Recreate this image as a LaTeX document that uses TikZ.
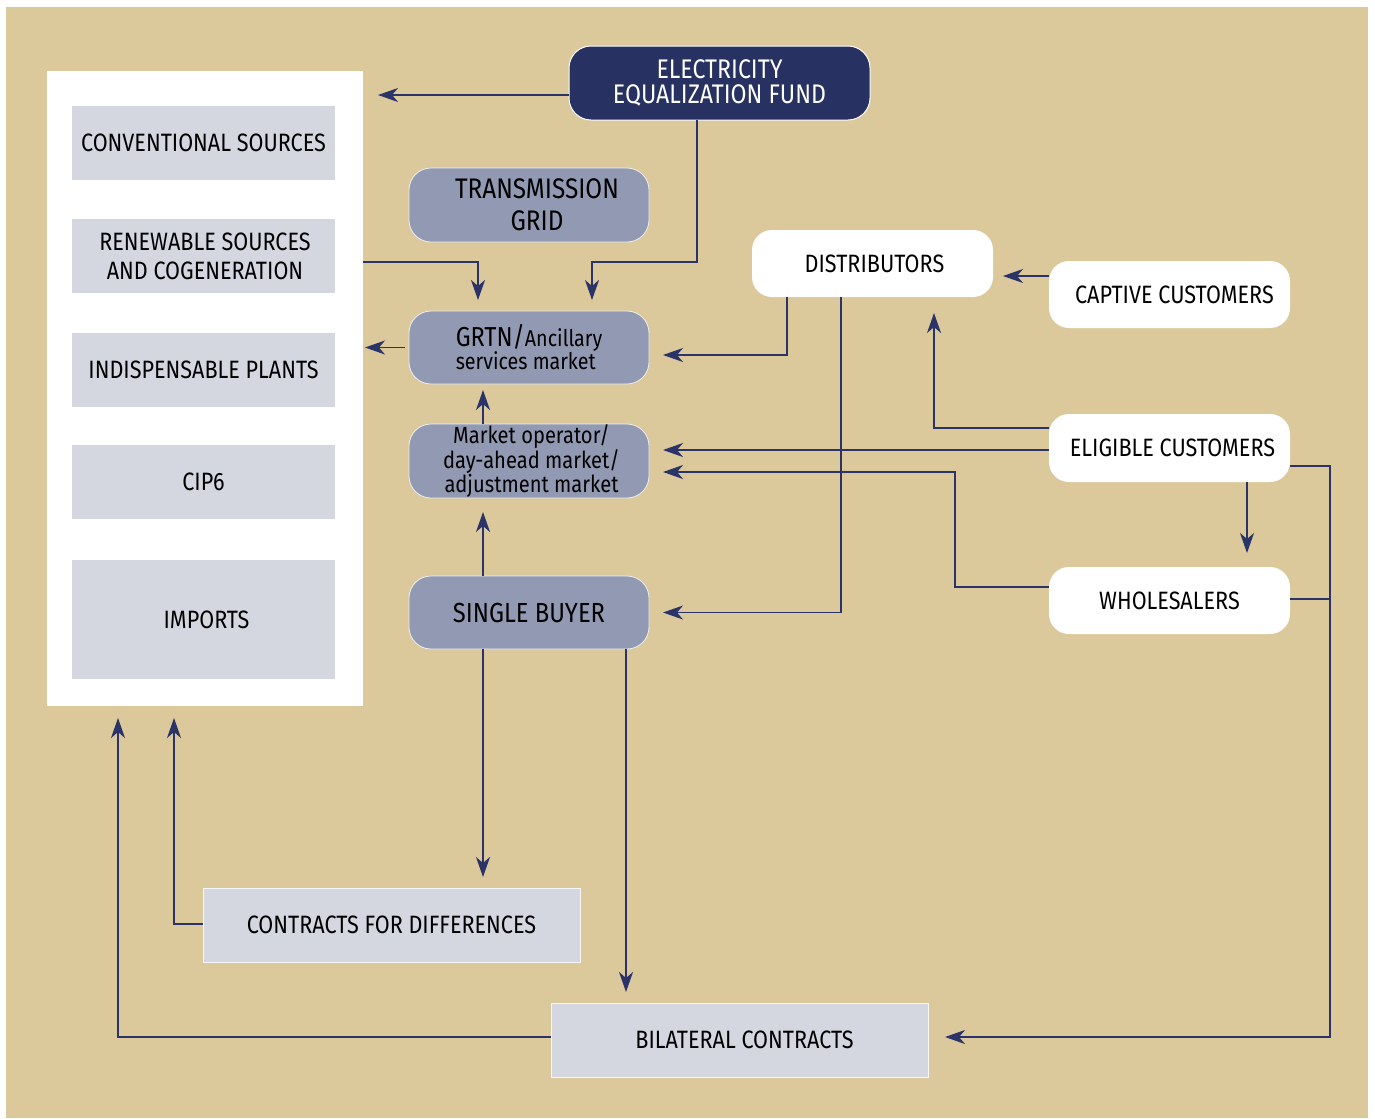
\documentclass[tikz,border=0pt]{standalone}
\usepackage{fontspec}
\setmainfont[FakeStretch=0.86]{Fira Sans}
\usetikzlibrary{arrows.meta,calc}
\definecolor{tan}{RGB}{219,200,155}
\definecolor{navy}{RGB}{43,52,105}
\definecolor{eefblue}{RGB}{40,50,98}
\definecolor{midblue}{RGB}{146,153,178}
\definecolor{lightgray}{RGB}{212,215,224}
\begin{document}
\begin{tikzpicture}[x=1bp,y=-1bp,
  every node/.style={inner sep=0pt,outer sep=0pt,align=center,font=\fontsize{25.2}{29}\selectfont},
  inbox/.style={rectangle,fill=lightgray,minimum width=263bp,minimum height=74bp},
  midbox/.style={rectangle,rounded corners=22bp,fill=midblue,draw=white!85!midblue,line width=0.8bp,minimum width=240bp,minimum height=74bp},
  whitebox/.style={rectangle,rounded corners=20bp,fill=white,minimum width=241bp,minimum height=67bp},
  contract/.style={rectangle,fill=lightgray,draw=white!80!lightgray,line width=1bp,minimum width=377bp,minimum height=74bp},
  conn/.style={draw=navy,line width=1.4bp},
  arr/.style={conn,-{Stealth[length=20bp,width=14bp,inset=6bp]}}
]
\useasboundingbox (0,0) rectangle (1375,1118);
\fill[white] (0,0) rectangle (1375,1118);
\fill[tan] (6,7) rectangle (1368,1118);

% left panel
\node[rectangle,fill=white,minimum width=316bp,minimum height=635bp] (panel) at (205,388.5) {};
\node[inbox] (conv) at (203.5,143) {CONVENTIONAL SOURCES};
\node[inbox] (renew) at (203.5,256) {\hspace*{3bp}RENEWABLE SOURCES\\\hspace*{3bp}AND COGENERATION};
\node[inbox] (indisp) at (203.5,370) {INDISPENSABLE PLANTS};
\node[inbox] (cip) at (203.5,482) {CIP6};
\node[inbox,minimum height=119bp] (imports) at (203.5,619.5) {\hspace*{6bp}IMPORTS};

% central column
\node[rectangle,rounded corners=22bp,fill=eefblue,draw=white,line width=1bp,minimum width=301bp,minimum height=74bp,text=white,font=\fontsize{27}{25.5}\selectfont] (eef) at (719.5,83) {ELECTRICITY\\EQUALIZATION FUND};
\node[midbox,font=\fontsize{28.4}{32}\selectfont] (tg) at (529,205) {\hspace*{16bp}TRANSMISSION\\\hspace*{16bp}GRID};
\node[midbox,minimum height=73bp,align=left,font=\fontsize{23}{23}\selectfont] (grtn) at (529,347.5) {{\fontsize{27.5}{23}\selectfont GRTN/}Ancillary\\services market};
\node[midbox,font=\fontsize{23.5}{22}\selectfont] (mo) at (529,461) {\hspace*{5bp}Market operator/\\\hspace*{5bp}day-ahead market/\\\hspace*{5bp}adjustment market};
\node[midbox,minimum height=73bp,font=\fontsize{27.7}{30}\selectfont] (sb) at (529,612.5) {SINGLE BUYER};

% right column
\node[whitebox] (dist) at (872.5,263.5) {\hspace*{4bp}DISTRIBUTORS};
\node[whitebox] (captive) at (1169.5,294.5) {\hspace*{10bp}CAPTIVE CUSTOMERS};
\node[whitebox,minimum height=68bp] (eligible) at (1169.5,448) {\hspace*{6bp}ELIGIBLE CUSTOMERS};
\node[whitebox] (whole) at (1169.5,600.5) {WHOLESALERS};

% contracts
\node[contract] (cfd) at (391.5,925) {CONTRACTS FOR DIFFERENCES};
\node[contract] (bil) at (739.5,1040) {\hspace*{10bp}BILATERAL CONTRACTS};

% connectors
\coordinate (e1) at ($(eef.west)+(0,12)$);
\draw[arr,shorten >=15bp] (e1) -- (panel.east |- e1);

\coordinate (eb) at ($(eef.south)+(-22.5,0)$);
\coordinate (g2) at ($(grtn.north)+(63,0)$);
\draw[arr,shorten >=11bp] (eb) -- ++(0,142) -| (g2);

\coordinate (r1) at ($(panel.east |- renew.center)+(0,6)$);
\coordinate (g1) at ($(grtn.north)+(-51,0)$);
\draw[arr,shorten >=11bp] (r1) -| (g1);

\draw[arr,shorten <=4bp,shorten >=2bp] (grtn.west) -- (panel.east |- grtn.west);

\coordinate (m1) at ($(mo.north)+(-46,0)$);
\draw[arr,shorten >=6bp] (m1) -- (m1 |- grtn.south);

\coordinate (s1) at ($(sb.north)+(-46,0)$);
\draw[arr,shorten >=14bp] (s1) -- (s1 |- mo.south);

\coordinate (d1) at ($(dist.south)+(-85.5,0)$);
\draw[arr,shorten >=14bp] (d1) |- ($(grtn.east)+(0,7.5)$);

\coordinate (d2) at ($(dist.south)+(-31.5,0)$);
\draw[arr,shorten >=14bp] (d2) |- (sb.east);

\coordinate (c1) at ($(captive.west)+(0,-18.5)$);
\draw[arr,shorten >=10bp] (c1) -- (dist.east |- c1);

\draw[arr,shorten >=16bp] ($(eligible.west)+(0,-20)$) -| ($(dist.south)+(61.5,0)$);

\coordinate (el2) at ($(eligible.west)+(0,2)$);
\draw[arr,shorten >=14bp] (el2) -- (mo.east |- el2);

\draw[arr,shorten >=14bp] ($(whole.west)+(0,-13.5)$) -- ++(-94,0) |- ($(mo.east)+(0,11)$);

\coordinate (el3) at ($(eligible.south)+(77.5,0)$);
\draw[arr,shorten >=14bp] (el3) -- (el3 |- whole.north);

\draw[arr,shorten >=17bp] ($(eligible.east)+(0,18)$) -- ++(40,0) |- ($(bil.east)+(0,-3)$);
\draw[conn] ($(whole.east)+(0,-1.5)$) -- ++(40,0);

\coordinate (s2) at ($(sb.south)+(-46,0)$);
\draw[arr,shorten >=11bp] (s2) -- (s2 |- cfd.north);

\coordinate (s3) at ($(sb.south)+(97,0)$);
\draw[arr,shorten >=11bp] (s3) -- (s3 |- bil.north);

\draw[arr,shorten >=12bp] ($(cfd.west)+(0,-1)$) -| ($(panel.south)+(-31,0)$);
\draw[arr,shorten >=12bp] ($(bil.west)+(0,-3)$) -| ($(panel.south)+(-87,0)$);
\end{tikzpicture}
\end{document}
